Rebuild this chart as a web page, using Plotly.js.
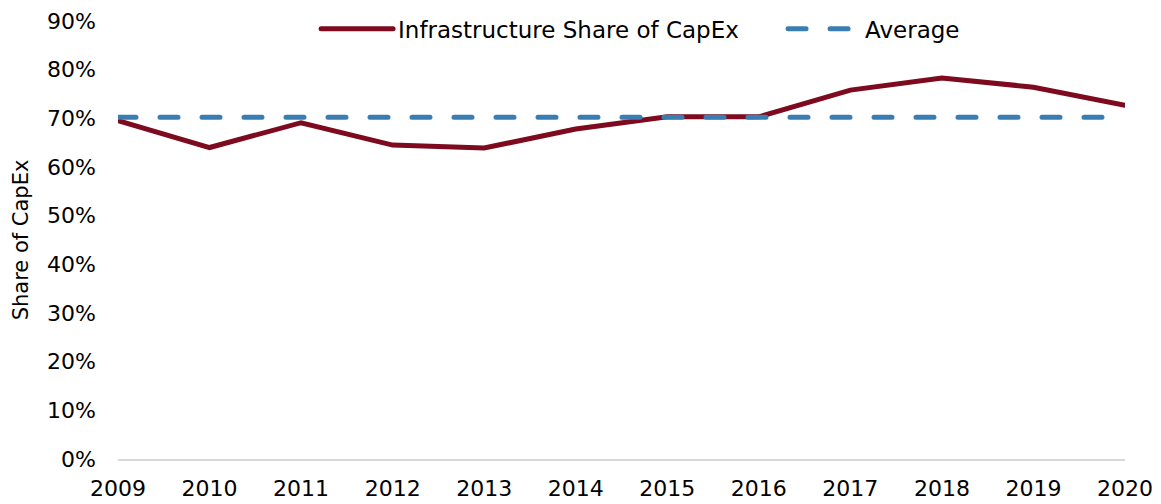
<!DOCTYPE html>
<html>
<head>
<meta charset="utf-8">
<script src="https://cdn.plot.ly/plotly-3.0.1.min.js"></script>
<style>
  html, body { margin: 0; padding: 0; background: #fff; }
  #chart { width: 1161px; height: 504px; }
  /* rounded line ends like the original */
  #chart .scatterlayer path.js-line,
  #chart .legendlines path { stroke-linecap: round; }
</style>
</head>
<body>
<div id="chart"></div>
<script>
const years = [2009, 2010, 2011, 2012, 2013, 2014, 2015, 2016, 2017, 2018, 2019, 2020];
const infraShare = [69.5, 64.0, 69.1, 64.5, 63.9, 67.8, 70.3, 70.3, 75.8, 78.3, 76.4, 72.7];
const averageShare = years.map(() => 70.2);

const font = "DejaVu Sans, sans-serif";

const traceInfra = {
    x: years,
    y: infraShare,
    mode: "lines",
    name: "Infrastructure Share of CapEx",
    line: { color: "#7D0A1E", width: 5 }
};

const traceAvg = {
    x: years,
    y: averageShare,
    mode: "lines",
    name: "Average",
    line: { color: "#3A7DB3", width: 5, dash: "18px,24px" }
};

const layout = {
    width: 1161,
    height: 504,
    margin: { l: 118, r: 36, t: 21, b: 45, autoexpand: false },
    paper_bgcolor: "#ffffff",
    plot_bgcolor: "#ffffff",
    font: { family: font, size: 22, color: "#000000" },
    showlegend: true,
    legend: {
        orientation: "h",
        x: 0.1967, xanchor: "left",
        y: 0.982, yanchor: "middle",
        bgcolor: "rgba(0,0,0,0)",
        font: { family: font, size: 23, color: "#000" },
        itemwidth: 72,
        entrywidth: 380,
        entrywidthmode: "pixels",
        tracegroupgap: 0
    },
    xaxis: {
        range: [2009, 2020],
        tickmode: "array",
        tickvals: years,
        ticktext: years.map(String),
        showgrid: false,
        zeroline: false,
        showline: true,
        linecolor: "#D9D9D9",
        linewidth: 2,
        ticks: "",
        ticklabelstandoff: 9
    },
    yaxis: {
        range: [0, 90],
        dtick: 10,
        tick0: 0,
        ticksuffix: "%",
        showgrid: false,
        zeroline: false,
        showline: false,
        ticks: "",
        ticklabelstandoff: 21,
        title: { text: "Share of CapEx", font: { family: font, size: 21 }, standoff: 12 }
    }
};

Plotly.newPlot("chart", [traceInfra, traceAvg], layout, { displayModeBar: false, responsive: false });
</script>
</body>
</html>
